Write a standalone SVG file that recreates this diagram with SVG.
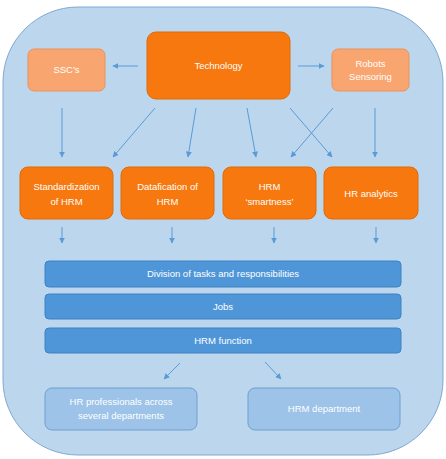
<svg xmlns="http://www.w3.org/2000/svg" width="446" height="459" viewBox="0 0 446 459">
<defs>
<marker id="ah" viewBox="0 0 10 10" refX="9" refY="5" markerWidth="6" markerHeight="6" markerUnits="userSpaceOnUse" orient="auto">
<path d="M0,0 L10,5 L0,10 z" fill="#5b9bd5"/>
</marker>
<style>
text{font-family:"Liberation Sans",Arial,sans-serif;font-size:9.5px;fill:#ffffff;text-anchor:middle}
.main{fill:#f6780e;stroke:#e06a08;stroke-width:1}
.light{fill:#f9a56f;stroke:#e8935f;stroke-width:1}
.bar{fill:#4f96d8;stroke:#3f82c2;stroke-width:1}
.low{fill:#9dc3e8;stroke:#6f9fd0;stroke-width:1}
.c line{stroke:#5b9bd5;stroke-width:1;marker-end:url(#ah)}
</style>
</defs>
<rect x="3" y="7" width="440" height="448" rx="75" ry="75" fill="#bcd6ee" stroke="#7ea8d2" stroke-width="1"/>
<g id="technology"><rect class="main" x="147" y="32" width="143" height="67" rx="9"/><text x="218.5" y="69">Technology</text></g>
<g id="sscs"><rect class="light" x="28" y="49" width="77" height="42" rx="6"/><text x="66.5" y="73">SSC’s</text></g>
<g id="robots"><rect class="light" x="332" y="49" width="77" height="42" rx="6"/><text x="370.5" y="67">Robots</text><text x="370.5" y="80">Sensoring</text></g>
<g id="standardization"><rect class="main" x="20" y="167" width="93" height="52" rx="8"/><text x="66.5" y="190">Standardization</text><text x="66.5" y="205">of HRM</text></g>
<g id="datafication"><rect class="main" x="121" y="167" width="93" height="52" rx="8"/><text x="167.5" y="190">Datafication of</text><text x="167.5" y="205">HRM</text></g>
<g id="smartness"><rect class="main" x="223" y="167" width="93" height="52" rx="8"/><text x="269.5" y="190">HRM</text><text x="269.5" y="205">‘smartness’</text></g>
<g id="analytics"><rect class="main" x="324" y="167" width="94" height="52" rx="8"/><text x="371" y="196.5">HR analytics</text></g>
<g id="division"><rect class="bar" x="45" y="261" width="356" height="26" rx="4"/><text x="223" y="277">Division of tasks and responsibilities</text></g>
<g id="jobs"><rect class="bar" x="45" y="294" width="356" height="25" rx="4"/><text x="223" y="310">Jobs</text></g>
<g id="hrmfunction"><rect class="bar" x="45" y="328" width="356" height="25" rx="4"/><text x="223" y="344">HRM function</text></g>
<g id="hrprofessionals"><rect class="low" x="45" y="388" width="152" height="42" rx="7"/><text x="121" y="405">HR professionals across</text><text x="121" y="419">several departments</text></g>
<g id="hrmdepartment"><rect class="low" x="248" y="388" width="152" height="42" rx="7"/><text x="324" y="412">HRM department</text></g>
<g id="connectors" class="c">
<line x1="138" y1="66" x2="113" y2="66"/>
<line x1="298" y1="66" x2="324" y2="66"/>
<line x1="62" y1="108" x2="62" y2="157"/>
<line x1="155" y1="108" x2="113" y2="157"/>
<line x1="196" y1="108" x2="188" y2="157"/>
<line x1="247" y1="108" x2="256" y2="157"/>
<line x1="290" y1="108" x2="332" y2="157"/>
<line x1="333" y1="108" x2="291" y2="157"/>
<line x1="375" y1="108" x2="375" y2="157"/>
<line x1="62" y1="227" x2="62" y2="243"/>
<line x1="172" y1="227" x2="172" y2="243"/>
<line x1="274" y1="227" x2="274" y2="243"/>
<line x1="376" y1="227" x2="376" y2="243"/>
<line x1="180" y1="363" x2="164" y2="379"/>
<line x1="265" y1="362" x2="281" y2="379"/>
</g>
</svg>
